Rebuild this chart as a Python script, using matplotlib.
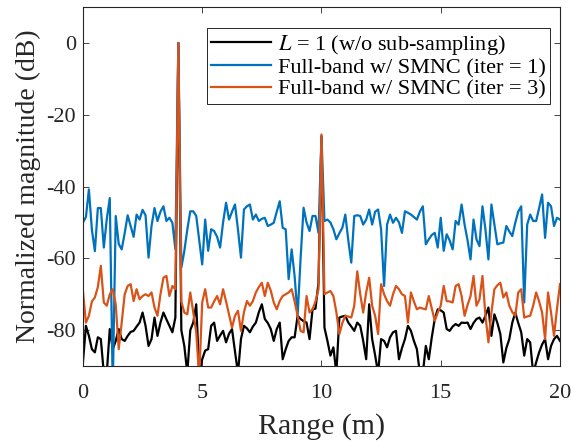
import numpy as np
import matplotlib
matplotlib.use("Agg")
import matplotlib.pyplot as plt

plt.rcParams['font.family'] = ['Liberation Serif', 'DejaVu Serif']
plt.rcParams['mathtext.fontset'] = 'stix'
plt.rcParams['axes.unicode_minus'] = False

# range step (m) and series values (dB)
step = 0.125

ref = [-89.0, -78.8, -81.6, -85.3, -86.2, -82.0, -82.5, -92, -92, -79.7,
       -85.3, -83.0, -79.7, -82.5, -83.0, -81.6, -80.5, -80.2, -79, -77.9,
       -75.1, -78.8, -84.4, -82.5, -76.5, -81.6, -77.9, -75.1, -77, -78.8,
       -80.6, -76.5, 0, -80, -84.4, -92, -80, -77.9, -72.8, -92,
       -88.1, -85.7, -85.3, -78.8, -77.9, -83.0, -81.5, -80.2, -83.4, -81,
       -79.7, -86, -92, -82.5, -78.8, -79.5, -80.6, -79, -77.9, -75,
       -72.8, -76.9, -78, -79.7, -83.0, -79.7, -77.9, -88.1, -85.3, -83,
       -82.0, -82.0, -76.0, -76.9, -77.5, -77.9, -82.5, -74.2, -74, -66.8,
       -26, -79.3, -83, -87.1, -84.8, -92, -76.5, -76.2, -76.0, -77.9,
       -79, -80.2, -77.9, -78.8, -83, -88.1, -72.8, -82.5, -87, -92,
       -82.5, -83.0, -84.8, -82, -80.6, -80.2, -88.1, -85, -82.5, -78.8,
       -80.2, -83, -85.3, -92, -92, -84.4, -88.1, -82, -76.9, -74.2,
       -74.5, -75.1, -79.7, -80.2, -79, -78.3, -78.8, -77.9, -78, -77.9,
       -79.7, -78, -76.9, -76.5, -77.9, -76, -73.7, -81.6, -75.6, -78,
       -81.1, -89.0, -85, -82.5, -77.9, -75.1, -78, -80.6, -87.1, -82.5,
       -83.4, -92, -89.0, -86.2, -84, -82.5, -88.1, -84.4, -82.5, -81.6,
       -83]

iter1 = [-50.0, -48.5, -40.8, -52, -58, -46, -46, -57, -49, -43.2,
         -96, -48.2, -56, -57.5, -53, -48, -51, -54, -47.8, -49.2,
         -46.5, -48, -59.8, -51, -46, -49.6, -47, -45.5, -49.6, -48.7,
         -50.1, -57.5, 0, -62.6, -58, -52, -46.9, -46.9, -48.2, -55,
         -61.7, -49.2, -57.9, -51.9, -52.4, -54, -57.0, -50, -44.5, -49.2,
         -47, -45.0, -52, -59.8, -46.4, -45.5, -45.0, -49.2, -47.8, -49.6,
         -49, -48.7, -51.0, -50.6, -50.1, -47, -44.1, -51.5, -51.9, -65.8,
         -57.5, -65, -76, -60, -45.9, -50, -52.4, -48.2, -48.2, -52.9,
         -26, -49.6, -49.2, -50, -51.9, -54.7, -53, -51.5, -47.8, -55,
         -61.2, -48.2, -48, -48.2, -50.6, -49.2, -46.4, -50.6, -47, -46.4,
         -51.9, -67.7, -50.6, -47.8, -50.1, -48.7, -50, -52.9, -46.9, -47.3,
         -47.8, -48.5, -49.2, -47, -45.5, -56.1, -54.7, -53.5, -52.9, -57.0,
         -48.7, -57.9, -53.3, -55, -57.5, -49.6, -50.6, -45.0, -50.6, -55,
         -60.3, -49.2, -54.7, -56.6, -45.5, -52, -60.3, -45.0, -50.6, -56.1,
         -55.8, -55.6, -51.0, -52.5, -53.8, -50.1, -47, -45.5, -72.3, -50.6,
         -47.8, -49.6, -49.6, -46, -42.2, -54.3, -44.5, -45.5, -51.0, -48.7,
         -49.2]

iter3 = [-69.1, -77.9, -76.0, -72, -70.9, -68, -62.1, -72.3, -73.2, -70,
         -68.6, -72.8, -85.3, -77.9, -70, -67.7, -67.2, -71.9, -68.6, -71.4,
         -70.5, -70.0, -70.5, -69.5, -73.7, -76.0, -70, -65.4, -64.9, -70.5,
         -67.7, -68.6, 0, -72, -75.1, -75.6, -69.5, -75, -80.6, -93,
         -72.3, -68.6, -73.7, -73.7, -72, -70.5, -72.8, -68.6, -72, -75.6,
         -79.3, -76, -74.6, -80.2, -75, -71.9, -73.2, -71.9, -69.5, -68,
         -66.8, -70.5, -66.8, -69, -72.3, -74.2, -71.9, -70.5, -70, -69.5,
         -68.6, -72, -76.0, -80.2, -80.6, -70.5, -75.1, -74.2, -72, -68.6,
         -25.5, -70.0, -69.5, -69.1, -70.5, -75, -81.1, -78, -76.0, -76.2,
         -76.5, -73.2, -63.6, -70, -75.1, -69.5, -65.4, -73.2, -76, -81.1,
         -67.2, -70.0, -71.9, -73.2, -70, -67.7, -68.6, -70, -70.5, -77.9,
         -69.5, -72, -74.2, -73.7, -74, -74.2, -70.5, -74, -77.4, -75.1,
         -73.2, -67.7, -71.9, -72, -72.3, -67.7, -67.2, -70.5, -76.0, -73,
         -70.5, -64.9, -73.2, -71.4, -64.9, -76, -83.4, -75.1, -68.6, -67.5,
         -66.8, -70.9, -69.5, -73.2, -75, -76.0, -69.5, -68.6, -76.5, -76.2,
         -76.0, -73.2, -69.5, -72, -75.1, -82.5, -69.5, -75.1, -81.6, -74,
         -67.2]

labels = [r'$L$ = 1 (w/o sub-sampling)',
          'Full-band w/ SMNC (iter = 1)',
          'Full-band w/ SMNC (iter = 3)']
colors = ['black', '#0072BD', '#D95319']

fig = plt.figure(figsize=(5.72, 4.41), dpi=100)
ax = fig.add_axes([0.145, 0.170, 0.834, 0.814])

for ys, lab, c in zip([ref, iter1, iter3], labels, colors):
    xs = np.arange(len(ys)) * step
    ax.plot(xs, ys, color=c, lw=1.6, label=lab)

ax.set_xlim(0, 20)
ax.set_ylim(-90, 10)
ax.set_xticks([0, 5, 10, 15, 20])
ax.set_yticks([-80, -60, -40, -20, 0])
ax.tick_params(direction='in', top=True, right=True, labelsize=16,
               length=4, width=0.6, color='#262626', labelcolor='#262626')
ax.tick_params(axis='x', pad=13)
ax.tick_params(axis='y', pad=5)
for sp in ax.spines.values():
    sp.set_linewidth(0.8)
    sp.set_color('#262626')

ax.set_xlabel('Range (m)', fontsize=21.5, labelpad=7.5, color='#262626')
ax.set_ylabel('Normalized magnitude (dB)', fontsize=20, labelpad=4,
              color='#262626')

leg = ax.legend(loc='upper right', bbox_to_anchor=(0.979, 0.9415),
                fontsize=16, fancybox=False, edgecolor='#262626',
                framealpha=1, handlelength=2.7, handletextpad=0.3,
                borderpad=0.2, labelspacing=0.05, borderaxespad=0)
leg.get_frame().set_linewidth(0.7)

fig.savefig('out.png', dpi=100)
